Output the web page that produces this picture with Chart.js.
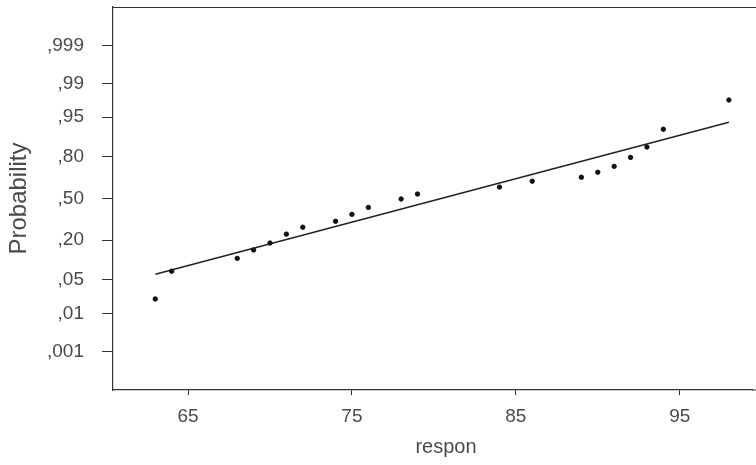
<!DOCTYPE html>
<html>
<head>
<meta charset="utf-8">
<script src="https://cdn.jsdelivr.net/npm/chart.js@4"></script>
<style>
  html, body { margin: 0; padding: 0; background: #fff; }
  #wrap { width: 756px; height: 465px; }
</style>
</head>
<body>
<div id="wrap"><canvas id="chart"></canvas></div>
<script>
// respon values (x) and their normal scores (y, in z units)
const respon = [63, 64, 68, 69, 70, 71, 72, 74, 75, 76, 78, 79, 84, 86, 89, 90, 91, 92, 93, 94, 98];
const scores = [-2.03, -1.47, -1.21, -1.04, -0.90, -0.72, -0.58, -0.46, -0.32, -0.18, -0.01,
                0.09, 0.23, 0.35, 0.43, 0.53, 0.65, 0.83, 1.04, 1.40, 1.99];

// fitted line end points
const fitX = [63, 98];
const fitY = [-1.53, 1.54];

// probability axis: positions on the normal scale and their labels
const probTicks = [-3.090, -2.326, -1.645, -0.842, 0, 0.842, 1.645, 2.326, 3.090];
const probLabels = [",001", ",01", ",05", ",20", ",50", ",80", ",95", ",99", ",999"];
const xTicks = [65, 75, 85, 95];
const xTitle = "respon";

const textColor = "#4a4a4a";
const lineColor = "#333";
const fontFamily = "'Liberation Sans', Arial, sans-serif";

// top frame line, axis line run-out to the edge, and the x title
// (centred on the full plot box, which runs past the right edge)
const frame = {
  id: "frame",
  afterDraw(chart) {
    const { ctx, chartArea } = chart;
    ctx.save();
    ctx.strokeStyle = lineColor;
    ctx.lineWidth = 1.2;
    ctx.beginPath();
    ctx.moveTo(chartArea.left, chartArea.top + 0.5);
    ctx.lineTo(chart.width, chartArea.top + 0.5);
    ctx.moveTo(chartArea.right - 1, chartArea.bottom);
    ctx.lineTo(chart.width, chartArea.bottom);
    ctx.stroke();
    ctx.fillStyle = textColor;
    ctx.font = "20px " + fontFamily;
    ctx.textAlign = "center";
    ctx.textBaseline = "middle";
    ctx.fillText(xTitle, 446, 447);
    ctx.restore();
  },
};

new Chart(document.getElementById("chart"), {
  type: "scatter",
  data: {
    datasets: [
      {
        label: "respon",
        data: respon.map((x, i) => ({ x, y: scores[i] })),
        backgroundColor: "#111",
        borderColor: "#111",
        pointRadius: 2.2,
        pointHoverRadius: 2.2,
      },
      {
        type: "line",
        label: "fit",
        data: fitX.map((x, i) => ({ x, y: fitY[i] })),
        borderColor: "#222",
        borderWidth: 1.4,
        pointRadius: 0,
        fill: false,
      },
    ],
  },
  options: {
    responsive: true,
    maintainAspectRatio: false,
    animation: false,
    layout: { padding: { top: 7, left: 0, right: 0, bottom: 0 } },
    plugins: {
      legend: { display: false },
      tooltip: { enabled: false },
    },
    scales: {
      x: {
        type: "linear",
        min: 60.42,
        max: 99.46,
        afterBuildTicks: (axis) => { axis.ticks = xTicks.map((v) => ({ value: v })); },
        afterFit: (axis) => { axis.height = 75; axis.paddingLeft = 0; axis.paddingRight = 0; },
        grid: { drawOnChartArea: false, tickLength: 5, color: lineColor },
        border: { color: lineColor, width: 1.2 },
        ticks: {
          color: textColor,
          padding: 10,
          maxRotation: 0,
          font: { family: fontFamily, size: 19 },
        },
      },
      y: {
        type: "linear",
        min: -3.87,
        max: 3.87,
        afterBuildTicks: (axis) => { axis.ticks = probTicks.map((v) => ({ value: v })); },
        afterFit: (axis) => { axis.width = 113; axis.paddingTop = 0; axis.paddingBottom = 0; },
        grid: { drawOnChartArea: false, tickLength: 11, color: lineColor },
        border: { color: lineColor, width: 1.2 },
        ticks: {
          color: textColor,
          padding: 18,
          callback: (value, index) => probLabels[index],
          font: { family: fontFamily, size: 19 },
        },
        title: {
          display: true,
          text: "Probability",
          color: textColor,
          padding: { top: 5, bottom: 0 },
          font: { family: fontFamily, size: 24 },
        },
      },
    },
  },
  plugins: [frame],
});
</script>
</body>
</html>
